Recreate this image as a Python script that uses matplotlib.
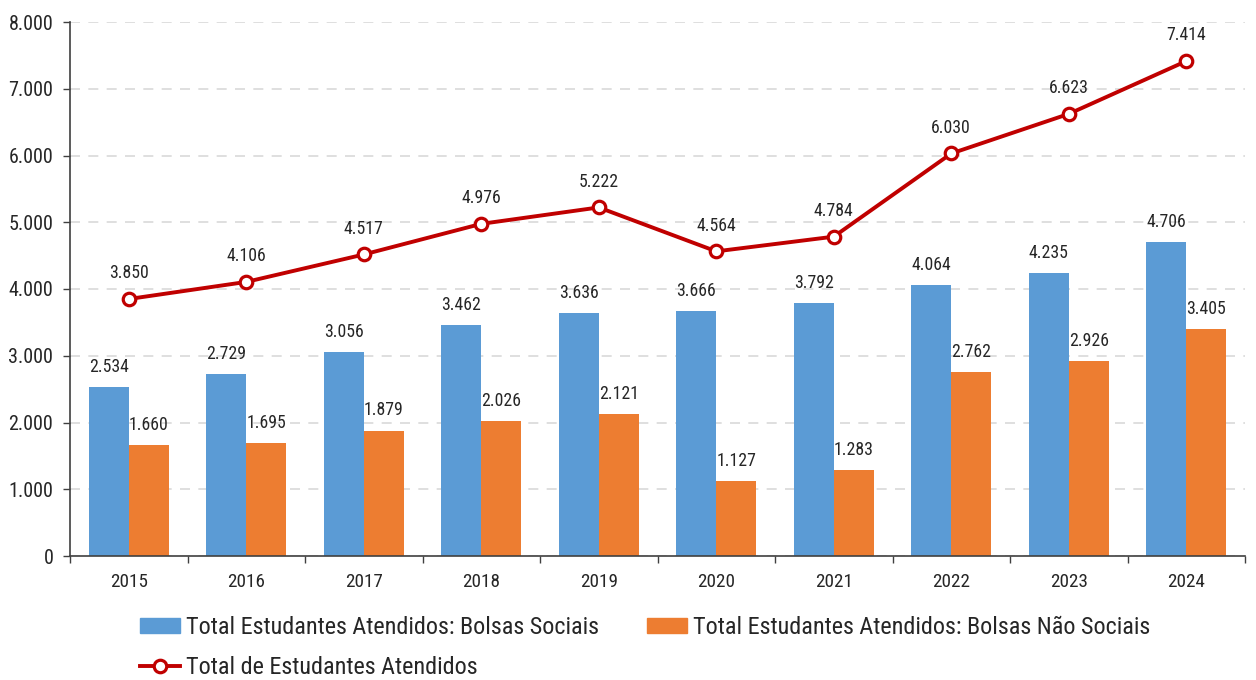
import matplotlib
matplotlib.use("Agg")
import matplotlib.pyplot as plt
import numpy as np
from matplotlib.lines import Line2D
from matplotlib.patches import Patch

plt.rcParams['font.family'] = ['Roboto Condensed', 'DejaVu Sans']

years = ["2015", "2016", "2017", "2018", "2019", "2020", "2021", "2022", "2023", "2024"]
sociais = [2534, 2729, 3056, 3462, 3636, 3666, 3792, 4064, 4235, 4706]
nao_sociais = [1660, 1695, 1879, 2026, 2121, 1127, 1283, 2762, 2926, 3405]
total = [3850, 4106, 4517, 4976, 5222, 4564, 4784, 6030, 6623, 7414]

c_blue = "#5B9BD5"
c_orange = "#ED7D31"
c_red = "#C00000"
txt = "#262626"

def fmt(v):
    return f"{v:,}".replace(",", ".")

fig = plt.figure(figsize=(12.56, 6.8), dpi=100)
ax = fig.add_axes([70/1256, 1-556/680, 1175/1256, 534/680])

x = np.arange(len(years))
w = 0.34
ax.bar(x - w/2, sociais, w, color=c_blue, zorder=2)
ax.bar(x + w/2, nao_sociais, w, color=c_orange, zorder=2)
ax.plot(x, total, color=c_red, lw=2.8, marker='o', ms=9, mfc='white', mec=c_red, mew=2.3, zorder=4)

lbl_fs = 12.8
for i in range(len(years)):
    ax.annotate(fmt(sociais[i]), (x[i] - w/2, sociais[i]), xytext=(0, 8), textcoords='offset points',
                ha='center', va='bottom', fontsize=lbl_fs, color=txt)
    ax.annotate(fmt(nao_sociais[i]), (x[i] + w/2, nao_sociais[i]), xytext=(0, 8), textcoords='offset points',
                ha='center', va='bottom', fontsize=lbl_fs, color=txt)
    ax.annotate(fmt(total[i]), (x[i], total[i]), xytext=(0, 12), textcoords='offset points',
                ha='center', va='bottom', fontsize=lbl_fs, color=txt)

ax.set_xlim(-0.5, len(years) - 0.5)
ax.set_ylim(0, 8000)
ax.set_yticks(np.arange(0, 8001, 1000))
ax.set_yticklabels([fmt(v) for v in range(0, 8001, 1000)], fontsize=14.5, color=txt)
ax.set_xticks(x)
ax.set_xticklabels(years, fontsize=13.8, color=txt)
ax.tick_params(axis='x', which='major', length=0, pad=12)
ax.set_xticks(np.arange(-0.5, len(years), 1), minor=True)
ax.tick_params(axis='x', which='minor', length=5, width=1, color='#404040', direction='out')
ax.tick_params(axis='y', length=5, width=1, color='#404040', direction='out', pad=7)

ax.grid(axis='y', color='#D9D9D9', ls=(0, (6, 5)), lw=1.2, zorder=0)
ax.set_axisbelow(True)
for s in ['top', 'right']:
    ax.spines[s].set_visible(False)
ax.spines['left'].set_color('#404040')
ax.spines['bottom'].set_color('#404040')
ax.spines['left'].set_linewidth(1.2)
ax.spines['bottom'].set_linewidth(1.2)

handles = [
    Patch(color=c_blue, label="Total Estudantes Atendidos: Bolsas Sociais"),
    Line2D([], [], color=c_red, lw=2.8, marker='o', ms=9, mfc='white', mec=c_red, mew=2.3,
           label="Total de Estudantes Atendidos"),
    Patch(color=c_orange, label="Total Estudantes Atendidos: Bolsas Não Sociais"),
]
fig.legend(handles=handles, ncol=2, loc='upper left', bbox_to_anchor=(140/1256, 1-616/680),
           frameon=False, fontsize=17.4, handlelength=1.65, handleheight=0.6, handletextpad=0.25,
           columnspacing=2.0, labelspacing=0.72, labelcolor=txt, borderpad=0, borderaxespad=0)

fig.savefig("out.png", dpi=100)
